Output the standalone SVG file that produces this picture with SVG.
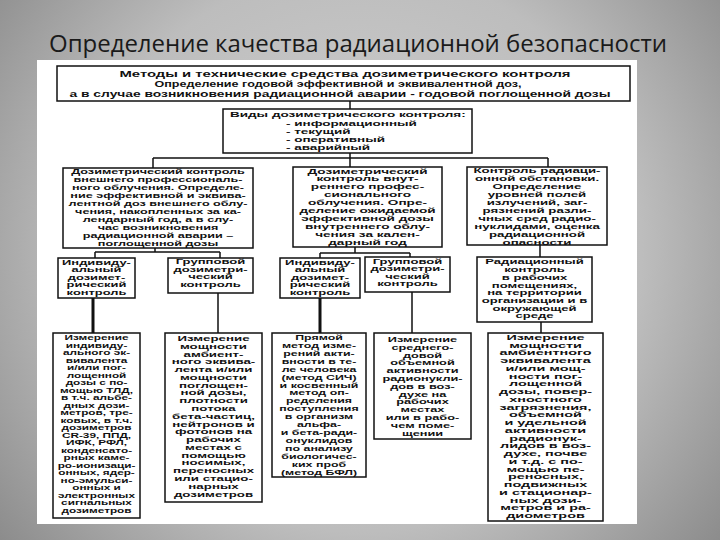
<svg xmlns="http://www.w3.org/2000/svg" width="720" height="540" viewBox="0 0 720 540">
<defs>
<radialGradient id="bg" cx="360" cy="250" r="470" gradientUnits="userSpaceOnUse">
<stop offset="0" stop-color="#d2d2d2"/>
<stop offset="0.6" stop-color="#bdbdbd"/>
<stop offset="1" stop-color="#8a8a8a"/>
</radialGradient>
<style>
.b{fill:#fff;stroke:#111;stroke-width:1.5}
.c{stroke:#111;stroke-width:1.5;fill:none}
.ct{stroke:#111;stroke-width:3;fill:none}
.t{font-family:"Liberation Sans",Arial,sans-serif;font-weight:bold;fill:#111}
.m{font-size:8px;text-anchor:middle}
.s{font-size:7.6px;text-anchor:middle}
</style>
</defs>
<rect width="720" height="540" fill="url(#bg)"/>
<text x="358" y="52" font-family="'Open Sans','Noto Sans',sans-serif" font-size="24" fill="#1a1a1a" text-anchor="middle" textLength="618">Определение качества радиационной безопасности</text>
<rect x="37" y="60" width="600" height="464" fill="#fff"/>

<g id="connectors">
<path class="c" d="M350 101V109M350 153V158M153 158H548M153 158V168M350 158V167M548 158V167"/>
<path class="c" d="M155 248V252M95 252H220M95 252V258M220 252V258"/>
<path class="c" d="M355 247V253M320 253H410M320 253V258M410 253V257"/>
<path class="c" d="M540 245V257"/>
<path class="ct" d="M93 298V333M320 298V333"/>
<path class="c" d="M218 293V333M412 292V333M541 322V333"/>
</g>

<g id="top">
<rect class="b" x="57" y="66" width="573" height="35"/>
<text class="t" font-size="9" text-anchor="middle" x="345" y="77" textLength="451" lengthAdjust="spacingAndGlyphs">Методы и технические средства дозиметрического контроля</text>
<text class="t" font-size="9" text-anchor="middle" x="338" y="86.5" textLength="367" lengthAdjust="spacingAndGlyphs">Определение годовой эффективной и эквивалентной доз,</text>
<text class="t" font-size="9" text-anchor="middle" x="340" y="96.5" textLength="541" lengthAdjust="spacingAndGlyphs">а в случае возникновения радиационной аварии - годовой поглощенной дозы</text>
</g>

<g id="vidy">
<rect class="b" x="223" y="109" width="249" height="44"/>
<text class="t" font-size="8" y="117.5" transform="translate(230 0) scale(1.69 1)"><tspan x="0">Виды дозиметрического контроля:</tspan><tspan x="33.1" dy="8.2">- информационный</tspan><tspan x="33.1" dy="8.2">- текущий</tspan><tspan x="33.1" dy="8.2">- оперативный</tspan><tspan x="33.1" dy="8.2">- аварийный</tspan></text>
</g>

<g id="boxA">
<rect class="b" x="63" y="168" width="190" height="80"/>
<text class="t m" y="174" transform="translate(158 0) scale(1.58 1)"><tspan x="0">Дозиметрический контроль</tspan><tspan x="0" dy="8">внешнего профессиональ-</tspan><tspan x="0" dy="8">ного облучения. Определе-</tspan><tspan x="0" dy="8">ние эффективной и эквива-</tspan><tspan x="0" dy="8">лентной доз внешнего облу-</tspan><tspan x="0" dy="8">чения, накопленных за ка-</tspan><tspan x="0" dy="8">лендарный год, а в слу-</tspan><tspan x="0" dy="8">час возникновения</tspan><tspan x="0" dy="8">радиационной аварии –</tspan><tspan x="0" dy="8">поглощенной дозы</tspan></text>
</g>

<g id="boxB">
<rect class="b" x="293" y="167" width="149" height="80"/>
<text class="t m" y="173.5" transform="translate(367.5 0) scale(1.7 1)"><tspan x="0">Дозиметрический</tspan><tspan x="0" dy="8">контроль внут-</tspan><tspan x="0" dy="8">реннего профес-</tspan><tspan x="0" dy="8">сионального</tspan><tspan x="0" dy="8">облучения. Опре-</tspan><tspan x="0" dy="8">деление ожидаемой</tspan><tspan x="0" dy="8">эффективной дозы</tspan><tspan x="0" dy="8">внутреннего облу-</tspan><tspan x="0" dy="8">чения за кален-</tspan><tspan x="0" dy="8">дарный год</tspan></text>
</g>

<g id="boxC">
<rect class="b" x="467" y="167" width="140" height="78"/>
<text class="t m" y="173.5" transform="translate(537 0) scale(1.66 1)"><tspan x="0">Контроль радиаци-</tspan><tspan x="0" dy="7.9">онной обстановки.</tspan><tspan x="0" dy="7.9">Определение</tspan><tspan x="0" dy="7.9">уровней полей</tspan><tspan x="0" dy="7.9">излучений, заг-</tspan><tspan x="0" dy="7.9">рязнений разли-</tspan><tspan x="0" dy="7.9">чных сред радио-</tspan><tspan x="0" dy="7.9">нуклидами, оценка</tspan><tspan x="0" dy="7.9">радиационной</tspan><tspan x="0" dy="7.9">опасности</tspan></text>
</g>

<g id="ind1">
<rect class="b" x="58" y="258" width="77" height="40"/>
<text class="t s" y="265" transform="translate(96.5 0) scale(1.7 1)"><tspan x="0">Индивиду-</tspan><tspan x="0" dy="7.5">альный</tspan><tspan x="0" dy="7.5">дозимет-</tspan><tspan x="0" dy="7.5">рический</tspan><tspan x="0" dy="7.5">контроль</tspan></text>
</g>

<g id="grp1">
<rect class="b" x="168" y="258" width="85" height="35"/>
<text class="t s" y="264.5" transform="translate(210.5 0) scale(1.72 1)"><tspan x="0">Групповой</tspan><tspan x="0" dy="7.5">дозиметри-</tspan><tspan x="0" dy="7.5">ческий</tspan><tspan x="0" dy="7.5">контроль</tspan></text>
</g>

<g id="ind2">
<rect class="b" x="280" y="258" width="80" height="40"/>
<text class="t s" y="265" transform="translate(320 0) scale(1.72 1)"><tspan x="0">Индивиду-</tspan><tspan x="0" dy="7.5">альный</tspan><tspan x="0" dy="7.5">дозимет-</tspan><tspan x="0" dy="7.5">рический</tspan><tspan x="0" dy="7.5">контроль</tspan></text>
</g>

<g id="grp2">
<rect class="b" x="365" y="257" width="85" height="35"/>
<text class="t s" y="264" transform="translate(407.5 0) scale(1.72 1)"><tspan x="0">Групповой</tspan><tspan x="0" dy="7.5">дозиметри-</tspan><tspan x="0" dy="7.5">ческий</tspan><tspan x="0" dy="7.5">контроль</tspan></text>
</g>

<g id="rad">
<rect class="b" x="477" y="257" width="115" height="65"/>
<text class="t s" y="264.5" transform="translate(534.5 0) scale(1.72 1)"><tspan x="0">Радиационный</tspan><tspan x="0" dy="7.7">контроль</tspan><tspan x="0" dy="7.7">в рабочих</tspan><tspan x="0" dy="7.7">помещениях,</tspan><tspan x="0" dy="7.7">на территории</tspan><tspan x="0" dy="7.7">организации и в</tspan><tspan x="0" dy="7.7">окружающей</tspan><tspan x="0" dy="7.7">среде</tspan></text>
</g>

<g id="low1">
<rect class="b" x="53" y="333" width="87" height="185"/>
<text class="t s" y="340.5" transform="translate(96.5 0) scale(1.55 1)"><tspan x="0">Измерение</tspan><tspan x="0" dy="7.5">индивиду-</tspan><tspan x="0" dy="7.5">ального эк-</tspan><tspan x="0" dy="7.5">вивалента</tspan><tspan x="0" dy="7.5">и/или пог-</tspan><tspan x="0" dy="7.5">лощенной</tspan><tspan x="0" dy="7.5">дозы с по-</tspan><tspan x="0" dy="7.5">мощью ТЛД,</tspan><tspan x="0" dy="7.5">в т.ч. альбе-</tspan><tspan x="0" dy="7.5">дных дози-</tspan><tspan x="0" dy="7.5">метров, тре-</tspan><tspan x="0" dy="7.5">ковых, в т.ч.</tspan><tspan x="0" dy="7.5">дозиметров</tspan><tspan x="0" dy="7.5">CR-39, ППД,</tspan><tspan x="0" dy="7.5">ИФК, РФЛ,</tspan><tspan x="0" dy="7.5">конденсато-</tspan><tspan x="0" dy="7.5">рных каме-</tspan><tspan x="0" dy="7.5">ро-ионизаци-</tspan><tspan x="0" dy="7.5">онных, ядер-</tspan><tspan x="0" dy="7.5">но-эмульси-</tspan><tspan x="0" dy="7.5">онных и</tspan><tspan x="0" dy="7.5">электронных</tspan><tspan x="0" dy="7.5">сигнальных</tspan><tspan x="0" dy="7.5">дозиметров</tspan></text>
</g>

<g id="low2">
<rect class="b" x="165" y="333" width="97" height="169"/>
<text class="t s" y="341" transform="translate(213.5 0) scale(1.75 1)"><tspan x="0">Измерение</tspan><tspan x="0" dy="7.78">мощности</tspan><tspan x="0" dy="7.78">амбиент-</tspan><tspan x="0" dy="7.78">ного эквива-</tspan><tspan x="0" dy="7.78">лента и/или</tspan><tspan x="0" dy="7.78">мощности</tspan><tspan x="0" dy="7.78">поглощен-</tspan><tspan x="0" dy="7.78">ной дозы,</tspan><tspan x="0" dy="7.78">плотности</tspan><tspan x="0" dy="7.78">потока</tspan><tspan x="0" dy="7.78">бета-частиц,</tspan><tspan x="0" dy="7.78">нейтронов и</tspan><tspan x="0" dy="7.78">фотонов на</tspan><tspan x="0" dy="7.78">рабочих</tspan><tspan x="0" dy="7.78">местах с</tspan><tspan x="0" dy="7.78">помощью</tspan><tspan x="0" dy="7.78">носимых,</tspan><tspan x="0" dy="7.78">переносных</tspan><tspan x="0" dy="7.78">или стацио-</tspan><tspan x="0" dy="7.78">нарных</tspan><tspan x="0" dy="7.78">дозиметров</tspan></text>
</g>

<g id="low3">
<rect class="b" x="272" y="333" width="94" height="144"/>
<text class="t s" y="340" transform="translate(319 0) scale(1.63 1)"><tspan x="0">Прямой</tspan><tspan x="0" dy="7.92">метод изме-</tspan><tspan x="0" dy="7.92">рений акти-</tspan><tspan x="0" dy="7.92">вности в те-</tspan><tspan x="0" dy="7.92">ле человека</tspan><tspan x="0" dy="7.92">(метод СИЧ)</tspan><tspan x="0" dy="7.92">и косвенный</tspan><tspan x="0" dy="7.92">метод оп-</tspan><tspan x="0" dy="7.92">ределения</tspan><tspan x="0" dy="7.92">поступления</tspan><tspan x="0" dy="7.92">в организм</tspan><tspan x="0" dy="7.92">альфа-</tspan><tspan x="0" dy="7.92">и бета-ради-</tspan><tspan x="0" dy="7.92">онуклидов</tspan><tspan x="0" dy="7.92">по анализу</tspan><tspan x="0" dy="7.92">биологичес-</tspan><tspan x="0" dy="7.92">ких проб</tspan><tspan x="0" dy="7.92">(метод БФЛ)</tspan></text>
</g>

<g id="low4">
<rect class="b" x="374" y="333" width="97" height="106"/>
<text class="t s" y="342" transform="translate(422.5 0) scale(1.68 1)"><tspan x="0">Измерение</tspan><tspan x="0" dy="7.8">среднего-</tspan><tspan x="0" dy="7.8">довой</tspan><tspan x="0" dy="7.8">объемной</tspan><tspan x="0" dy="7.8">активности</tspan><tspan x="0" dy="7.8">радионукли-</tspan><tspan x="0" dy="7.8">дов в воз-</tspan><tspan x="0" dy="7.8">духе на</tspan><tspan x="0" dy="7.8">рабочих</tspan><tspan x="0" dy="7.8">местах</tspan><tspan x="0" dy="7.8">или в рабо-</tspan><tspan x="0" dy="7.8">чем поме-</tspan><tspan x="0" dy="7.8">щении</tspan></text>
</g>

<g id="low5">
<rect class="b" x="488" y="333" width="115" height="188"/>
<text class="t s" y="340" transform="translate(545.5 0) scale(1.9 1)"><tspan x="0">Измерение</tspan><tspan x="0" dy="7.75">мощности</tspan><tspan x="0" dy="7.75">амбиентного</tspan><tspan x="0" dy="7.75">эквивалента</tspan><tspan x="0" dy="7.75">и/или мощ-</tspan><tspan x="0" dy="7.75">ности пог-</tspan><tspan x="0" dy="7.75">лощенной</tspan><tspan x="0" dy="7.75">дозы, повер-</tspan><tspan x="0" dy="7.75">хностного</tspan><tspan x="0" dy="7.75">загрязнения,</tspan><tspan x="0" dy="7.75">объемной</tspan><tspan x="0" dy="7.75">и удельной</tspan><tspan x="0" dy="7.75">активности</tspan><tspan x="0" dy="7.75">радионук-</tspan><tspan x="0" dy="7.75">лидов в воз-</tspan><tspan x="0" dy="7.75">духе, почве</tspan><tspan x="0" dy="7.75">и т.д. с по-</tspan><tspan x="0" dy="7.75">мощью пе-</tspan><tspan x="0" dy="7.75">реносных,</tspan><tspan x="0" dy="7.75">подвижных</tspan><tspan x="0" dy="7.75">и стационар-</tspan><tspan x="0" dy="7.75">ных дози-</tspan><tspan x="0" dy="7.75">метров и ра-</tspan><tspan x="0" dy="7.75">диометров</tspan></text>
</g>
</svg>
